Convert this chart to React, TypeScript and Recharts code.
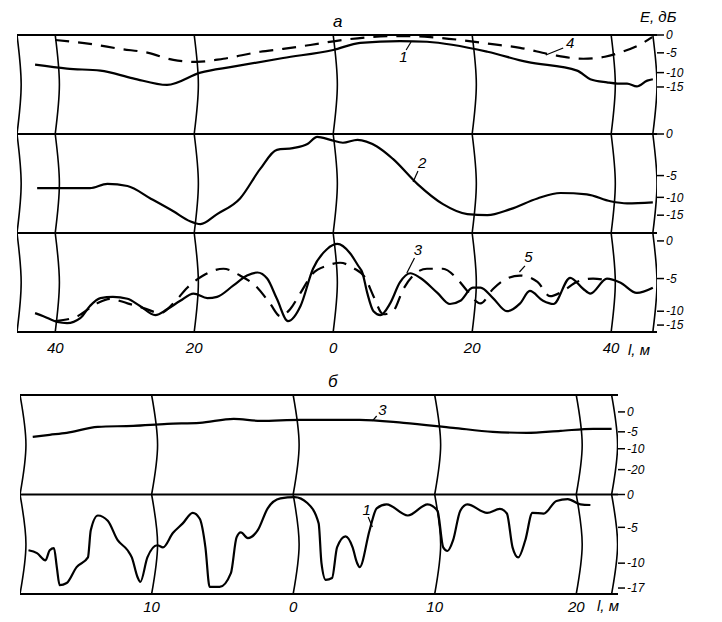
import { LineChart, Line, XAxis, YAxis, ReferenceLine, ReferenceDot } from "recharts";

type Pt = [number, number]; // [l, m ; E, dB]

// ---- а: three strips, l in metres (left of 0 is negative) ----
const lTicksA = [-40, -20, 0, 20, 40];
const dbTicksA = [
  [0, -5, -10, -15],
  [0, -5, -10, -15],
  [0, -5, -10, -15],
];

const curve1: Pt[] = [
  [-42.9, -8], [-38.3, -9], [-33.5, -9.5], [-28.8, -12], [-23.9, -14.3], [-19.1, -10],
  [-14.4, -8.5], [-7.2, -6.3], [0, -4.2], [3.9, -2.2], [9.6, -1.7], [13.5, -1.9],
  [22.2, -4.7], [27.9, -7.3], [35.1, -9.5], [37, -12.3], [39.4, -13.4], [40.9, -13.8],
  [42.3, -13.8], [43.7, -14.8], [45.2, -12.8], [46, -12.3],
];
const curve4: Pt[] = [
  [-40, -1.4], [-35, -2.5], [-30.6, -3.9], [-26.6, -5], [-23, -6.8], [-19.6, -7.3],
  [-15.8, -6.5], [-10.5, -4.7], [-7.2, -3.9], [-3.3, -2.8], [1.3, -1.4], [5.3, -0.6],
  [9.6, -0.3], [14, -0.6], [18.3, -1.4], [22.6, -2.5], [26.9, -3.6], [31.5, -5.5],
  [36, -6.5], [39.1, -6], [41.6, -4.7], [44.6, -2.2], [45.9, -0.6],
];
const curve2: Pt[] = [
  [-42.6, -7.9], [-38.3, -7.9], [-35, -7.9], [-32.5, -6.9], [-29.6, -7.4], [-26.3, -10.3],
  [-23, -13.9], [-20.6, -16.7], [-19.1, -17.5], [-16.7, -14.7], [-13.4, -10.3], [-10.5, -4.2],
  [-8.1, -1.9], [-5.8, -1.7], [-3.7, -1.2], [-2.3, -0.35], [-0.4, -0.7], [1.4, -1.05],
  [3.5, -0.7], [6.3, -1.5], [8.6, -3], [12.1, -6.9], [15.8, -11.9], [19.3, -14.7],
  [22.2, -15], [25.5, -13.3], [29.4, -10.3], [32.7, -9], [36.5, -9.3], [39.9, -11.1],
  [42.3, -11.7], [46, -11.4],
];
const curve3a: Pt[] = [
  [-42.9, -10.7], [-41.7, -11.8], [-39.7, -13.9], [-38.3, -14.3], [-36.4, -12.5], [-35, -9.2],
  [-33.5, -8], [-31.7, -7.8], [-29.6, -8.1], [-27.8, -9.2], [-25.6, -11.4], [-23.9, -9.7],
  [-22, -8.4], [-20.1, -7.3], [-18.1, -8], [-16.7, -7.8], [-14.4, -6.1], [-12.4, -4.6],
  [-10.9, -4.2], [-9.5, -5], [-8.1, -8.1], [-6.5, -13.6], [-4.7, -9.2], [-2.9, -3.7],
  [-0.9, -1.1], [0.6, -0.4], [2.4, -1.6], [3.6, -3.3], [4.2, -4.2], [4.9, -7.2],
  [5.8, -10], [6.8, -11.4], [8.2, -8.8], [9.6, -5.6], [11.1, -4.3], [12.5, -4.9],
  [15, -7.2], [16.8, -8.9], [18.3, -8.4], [20.1, -6.4], [21.2, -6.4], [23, -8],
  [25, -10], [26.9, -8.8], [28.3, -6.9], [30.2, -8.4], [31.7, -8.9], [34.1, -4.9],
  [36, -6.6], [37, -7.3], [39.4, -5], [41.3, -5.6], [43.7, -7.2], [46, -6.4],
];
const curve5: Pt[] = [
  [-40, -13.6], [-36.8, -11.8], [-34, -8.8], [-32.1, -8.1], [-29.6, -8.8], [-27.3, -9.5],
  [-24.9, -10.7], [-23, -8.8], [-21, -6.4], [-18.7, -4.6], [-15.8, -3.7], [-13.4, -4.6],
  [-10.9, -6.4], [-9.1, -8.8], [-7.6, -11.8], [-6.2, -9.7], [-4.7, -7.2], [-2.9, -4.3],
  [-0.9, -3.3], [1, -2.9], [2.9, -3.6], [4.6, -4.9], [5.8, -7.7], [7.2, -11.1],
  [8.6, -10], [10.1, -6.6], [11.5, -4.6], [13.5, -3.7], [15.8, -3.7], [17.8, -5],
  [19.3, -6.9], [21.2, -8.8], [23, -6.6], [25, -5], [26.9, -4.6], [29.4, -5.5],
  [31.2, -7.7], [33.1, -6.9], [35.1, -5.5], [37.4, -5], [39.4, -5.3],
];

// ---- б: two strips ----
const lTicksB = [-10, 0, 10, 20];
const dbTicksB = [
  [0, -5, -10, -20],
  [0, -5, -10, -17],
];

const curve3b: Pt[] = [
  [-18.4, -6.5], [-17.2, -5.9], [-16, -5.3], [-13.8, -3.75], [-11.3, -3.5], [-8.9, -3],
  [-6.6, -2.75], [-4.2, -1.75], [-2.3, -2.25], [0.5, -2], [2.8, -2], [4.7, -2],
  [7.8, -2.75], [11.3, -4], [14.1, -5], [16.5, -5.3], [18.9, -4.75], [21.2, -4.25], [22.5, -4.25],
];
const curve1b: Pt[] = [
  [-18.7, -8.2], [-18.1, -8.6], [-17.5, -9.6], [-17.2, -8.2], [-16.9, -7.9], [-16.7, -11.1],
  [-16.5, -16.2], [-16, -15.6], [-15.3, -11.1], [-14.5, -9.2], [-14.3, -5.4], [-13.8, -3.2],
  [-13.1, -4], [-12.4, -6.8], [-11.7, -8.2], [-11.4, -9.2], [-11, -13.9], [-10.8, -15.3],
  [-10.3, -9.2], [-9.6, -7.5], [-9.2, -7.8], [-8.5, -5.8], [-7.8, -4.4], [-7.1, -2.8],
  [-6.6, -3.7], [-6.2, -7.8], [-5.9, -16.7], [-5.2, -16.7], [-4.4, -12.8], [-4, -6.4],
  [-3.7, -5.7], [-3.2, -6.5], [-2.5, -5.4], [-1.8, -2.1], [-0.9, -0.6], [0.1, -0.4],
  [1, -1.3], [1.8, -4.4], [2, -10], [2.3, -14.7], [2.75, -14.2], [3.1, -7.8],
  [3.7, -6.25], [4.2, -7.8], [4.5, -9.9], [4.7, -11.1], [5.4, -5.4], [5.9, -2.1],
  [6.6, -1.5], [8.1, -3.2], [9.5, -1.5], [10.2, -2.5], [10.6, -7.8], [10.9, -8.3],
  [11.3, -6.8], [11.8, -2.5], [12.3, -1.5], [13.7, -2.8], [14.6, -2.2], [15.1, -2.9],
  [15.5, -7.8], [15.9, -9.2], [16.4, -6.8], [16.9, -2.8], [17.7, -2.9], [18.6, -1],
  [19.4, -0.7], [20.3, -1.5], [21, -1.6],
];

// recorder scale is not linear in dB: where each tick sits inside its strip (0 top, 1 bottom)
const scaleA = [
  [0, 0.18, 0.38, 0.525],
  [0, 0.42, 0.64, 0.82],
  [0.08, 0.46, 0.79, 0.93],
];
const scaleB = [
  [0.17, 0.37, 0.54, 0.75],
  [0, 0.33, 0.69, 0.94],
];

const FONT = "'Liberation Sans', Arial, sans-serif";
const INK = "#000";

function depthOf(e: number, ticks: number[], depths: number[]) {
  let i = 0;
  while (i < ticks.length - 2 && e < ticks[i + 1]) i++;
  const t = (e - ticks[i]) / (ticks[i + 1] - ticks[i]);
  return depths[i] + t * (depths[i + 1] - depths[i]);
}

// bowed vertical rule of the chart paper, one per strip
const arc = (l: number, strip: number, bow: number) => [
  { l, v: -strip },
  { l: l + bow, v: -strip - 0.5 },
  { l, v: -strip - 1 },
];

type Series = { pts: Pt[]; strip: number; dashed?: boolean };
type Note = { text: string; l: number; v: number; lead: [number, number, number, number] };

type StripsProps = {
  top: number;
  height: number;
  margin: { top: number; right: number; bottom: number; left: number };
  domain: [number, number];
  lTicks: number[];
  dbTicks: number[][];
  scale: number[][];
  series: Series[];
  rules: number[];
  bow: number;
  notes: Note[];
  xAxisHeight: number;
  tickMargin: number;
};

function Strips(p: StripsProps) {
  const n = p.dbTicks.length;
  const yTicks = p.dbTicks.flatMap((row, s) => row.map((e, i) => ({ pos: -(s + p.scale[s][i]), e })));
  const fmtY = (v: number) => {
    const t = yTicks.find((t) => Math.abs(t.pos - v) < 1e-6);
    if (!t) return "";
    return t.e === 0 ? "0" : "-" + Math.abs(t.e);
  };
  const tickStyle = { fill: INK, fontSize: 12, fontStyle: "italic", fontFamily: FONT };

  return (
    <div style={{ position: "absolute", left: 0, top: p.top }}>
      <LineChart width={722} height={p.height} margin={p.margin}>
        <XAxis
          type="number"
          dataKey="l"
          domain={p.domain}
          allowDataOverflow
          ticks={p.lTicks}
          interval={0}
          tickFormatter={(v: number) => String(Math.abs(v))}
          axisLine={false}
          tickLine={false}
          tickSize={0}
          tickMargin={p.tickMargin}
          height={p.xAxisHeight}
          tick={{ ...tickStyle, fontSize: 15 }}
        />
        <YAxis
          orientation="right"
          type="number"
          domain={[-n, 0]}
          allowDataOverflow
          ticks={yTicks.map((t) => t.pos)}
          interval={0}
          tickFormatter={fmtY}
          axisLine={false}
          tickLine={{ stroke: INK, strokeWidth: 1.5 }}
          tickSize={7}
          tickMargin={2}
          width={50}
          tick={tickStyle}
        />
        {Array.from({ length: n + 1 }, (_, s) => (
          <ReferenceLine key={`h${s}`} y={-s} stroke={INK} strokeWidth={2} ifOverflow="visible" />
        ))}
        {p.rules.flatMap((l) =>
          Array.from({ length: n }, (_, s) => (
            <Line
              key={`r${l}_${s}`}
              data={arc(l, s, p.bow)}
              dataKey="v"
              type="natural"
              stroke={INK}
              strokeWidth={1.6}
              dot={false}
              activeDot={false}
              legendType="none"
              isAnimationActive={false}
            />
          ))
        )}
        {p.series.map((s, k) => (
          <Line
            key={`c${k}`}
            data={s.pts.map(([l, e]) => ({ l, v: -(s.strip + depthOf(e, p.dbTicks[s.strip], p.scale[s.strip])) }))}
            dataKey="v"
            type="monotone"
            stroke={INK}
            strokeWidth={2.2}
            strokeDasharray={s.dashed ? "14 9" : undefined}
            dot={false}
            activeDot={false}
            legendType="none"
            isAnimationActive={false}
          />
        ))}
        {p.notes.map((m, k) => (
          <ReferenceLine
            key={`ld${k}`}
            segment={[
              { x: m.lead[0], y: m.lead[1] },
              { x: m.lead[2], y: m.lead[3] },
            ]}
            stroke={INK}
            strokeWidth={1.2}
            ifOverflow="visible"
          />
        ))}
        {p.notes.map((m, k) => (
          <ReferenceDot
            key={`nt${k}`}
            x={m.l}
            y={m.v}
            r={0}
            fill="none"
            stroke="none"
            ifOverflow="visible"
            label={{ value: m.text, position: "center", fill: INK, fontSize: 15, fontStyle: "italic", fontFamily: FONT }}
          />
        ))}
      </LineChart>
    </div>
  );
}

const notesA: Note[] = [
  { text: "1", l: 10.1, v: -0.222, lead: [10.5, -0.152, 11.2, -0.071] },
  { text: "4", l: 34.1, v: -0.081, lead: [33.1, -0.131, 30.6, -0.202] },
  { text: "2", l: 12.8, v: -1.293, lead: [12.2, -1.374, 11.5, -1.485] },
  { text: "3", l: 12.2, v: -2.172, lead: [11.7, -2.253, 10.6, -2.404] },
  { text: "5", l: 28.1, v: -2.242, lead: [27.6, -2.333, 26.8, -2.394] },
];
const notesB: Note[] = [
  { text: "3", l: 6.3, v: -0.151, lead: [5.9, -0.211, 5.6, -0.261] },
  { text: "1", l: 5.2, v: -1.156, lead: [5.3, -1.226, 5.6, -1.327] },
];

const caption = (text: string, left: number, top: number, size = 15) => (
  <div
    style={{
      position: "absolute",
      left,
      top,
      fontFamily: FONT,
      fontStyle: "italic",
      fontSize: size,
      lineHeight: 1,
      color: INK,
      whiteSpace: "nowrap",
    }}
  >
    {text}
  </div>
);

export default function App() {
  return (
    <div style={{ position: "absolute", left: 0, top: 0, width: 722, height: 622, background: "#fff", overflow: "hidden" }}>
      <Strips
        top={0}
        height={365}
        margin={{ top: 35, right: 15, bottom: 3, left: 17 }}
        domain={[-45.5, 46.6]}
        lTicks={lTicksA}
        dbTicks={dbTicksA}
        scale={scaleA}
        series={[
          { pts: curve4, strip: 0, dashed: true },
          { pts: curve1, strip: 0 },
          { pts: curve2, strip: 1 },
          { pts: curve5, strip: 2, dashed: true },
          { pts: curve3a, strip: 2 },
        ]}
        rules={[-45.5, -40, -20, 0, 20, 40, 46]}
        bow={0.6}
        notes={notesA}
        xAxisHeight={30}
        tickMargin={10}
      />
      <Strips
        top={360}
        height={262}
        margin={{ top: 35, right: 54, bottom: 4, left: 20 }}
        domain={[-19.3, 22.95]}
        lTicks={lTicksB}
        dbTicks={dbTicksB}
        scale={scaleB}
        series={[
          { pts: curve3b, strip: 0 },
          { pts: curve1b, strip: 1 },
        ]}
        rules={[-19.3, -10, 0, 10, 20, 22.5]}
        bow={0.42}
        notes={notesB}
        xAxisHeight={24}
        tickMargin={7}
      />
      {caption("а", 333, 13, 17)}
      {caption("Е, дБ", 640, 9)}
      {caption("l, м", 628, 342)}
      {caption("б", 328, 373, 17)}
      {caption("l, м", 597, 598)}
    </div>
  );
}
